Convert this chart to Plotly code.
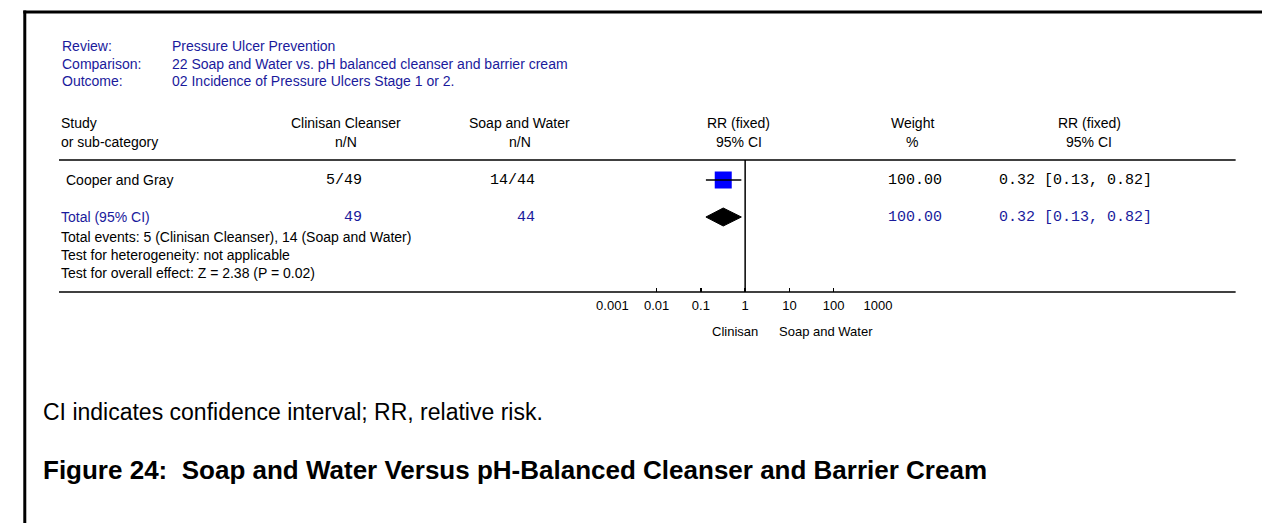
import plotly.graph_objects as go

# ---------------- data ----------------
review = "Pressure Ulcer Prevention"
comparison = "22 Soap and Water vs. pH balanced cleanser and barrier cream"
outcome = "02 Incidence of Pressure Ulcers Stage 1 or 2."
group_labels = ["Clinisan Cleanser", "Soap and Water"]
studies = ["Cooper and Gray"]
events_treat = [5]
total_treat = [49]
events_ctrl = [14]
total_ctrl = [44]
rr = [0.32]
ci_low = [0.13]
ci_high = [0.82]
weight = [100.00]
pooled_rr = 0.32
pooled_low = 0.13
pooled_high = 0.82
pooled_weight = 100.00
tick_vals = [0.001, 0.01, 0.1, 1, 10, 100, 1000]
tick_text = ["0.001", "0.01", "0.1", "1", "10", "100", "1000"]
favours = ["Clinisan", "Soap and Water"]
heterogeneity = "Test for heterogeneity: not applicable"
overall = "Test for overall effect: Z = 2.38 (P = 0.02)"
footnote = "CI indicates confidence interval; RR, relative risk."
caption = "Figure 24:\u00a0 Soap and Water Versus pH-Balanced Cleanser and Barrier Cream"

# ---------------- layout constants (pixels) ----------------
W, H = 1276, 523
SANS = "Liberation Sans, Arial, sans-serif"
MONO = "Liberation Mono, Courier New, monospace"
BLUE = "#1a1a9c"
x_lo_px, x_hi_px = 610.7, 882.7     # positions of 0.001 and 1000
axis_y = 292
head_line_y = 160
row_y = [180]
total_y = 217

def px(x):
    return x / W

fig = go.Figure()

# study squares
fig.add_trace(go.Scatter(
    x=rr, y=row_y, mode="markers",
    marker=dict(symbol="square", size=17, color="#0000ff", line=dict(width=0)),
    hoverinfo="skip", showlegend=False))
# CI lines (on top)
for lo, hi, yy in zip(ci_low, ci_high, row_y):
    fig.add_trace(go.Scatter(
        x=[lo, hi], y=[yy, yy], mode="lines",
        line=dict(color="black", width=1.5),
        hoverinfo="skip", showlegend=False))
# pooled diamond
dh = 9
fig.add_trace(go.Scatter(
    x=[pooled_low, pooled_rr, pooled_high, pooled_rr, pooled_low],
    y=[total_y, total_y - dh, total_y, total_y + dh, total_y],
    mode="lines", fill="toself", fillcolor="black",
    line=dict(color="black", width=1),
    hoverinfo="skip", showlegend=False))

shapes = []
# frame borders
shapes.append(dict(type="line", xref="paper", yref="y", x0=px(7.5), x1=1.0,
                   y0=12, y1=12, line=dict(color="black", width=3)))
shapes.append(dict(type="line", xref="paper", yref="y", x0=px(9), x1=px(9),
                   y0=10.5, y1=H, line=dict(color="black", width=3)))
# table lines
for yy in (head_line_y, axis_y):
    shapes.append(dict(type="line", xref="paper", yref="y", x0=px(44), x1=px(1249),
                       y0=yy, y1=yy, line=dict(color="black", width=1.5)))
# line of no effect
shapes.append(dict(type="line", xref="x", yref="y", x0=1, x1=1,
                   y0=head_line_y, y1=axis_y, line=dict(color="black", width=1.5)))

ann = []
def text(x, y, s, anchor="left", color="black", size=14, family=SANS, bold=False):
    if bold:
        s = "<b>" + s + "</b>"
    ann.append(dict(x=px(x), y=y, xref="paper", yref="y", text=s, showarrow=False,
                    xanchor=anchor, yanchor="middle",
                    font=dict(color=color, size=size, family=family)))

# header block
for lab, val, yy in (("Review:", review, 46), ("Comparison:", comparison, 63.5),
                     ("Outcome:", outcome, 81)):
    text(45, yy, lab, color=BLUE, size=14)
    text(158, yy, val, color=BLUE, size=14)

# column headers
text(44, 123, "Study")
text(44, 142, "or sub-category")
text(338, 123, group_labels[0], "center")
text(338, 142, "n/N", "center")
text(516, 123, group_labels[1], "center")
text(516, 142, "n/N", "center")
text(740, 123, "RR (fixed)", "center")
text(740, 142, "95% CI", "center")
text(918, 123, "Weight", "center")
text(918, 142, "%", "center")
text(1099, 123, "RR (fixed)", "center")
text(1099, 142, "95% CI", "center")

# study rows
for i, yy in enumerate(row_y):
    text(49, yy, studies[i])
    text(356, yy, f"{events_treat[i]}/{total_treat[i]}", "right", size=15, family=MONO)
    text(534, yy, f"{events_ctrl[i]}/{total_ctrl[i]}", "right", size=15, family=MONO)
    text(921, yy, f"{weight[i]:.2f}", "center", size=15, family=MONO)
    text(1005, yy, f"{rr[i]:.2f} [{ci_low[i]:.2f}, {ci_high[i]:.2f}]", size=15, family=MONO)

# total row
text(44, total_y, "Total (95% CI)", color=BLUE)
text(356, total_y, f"{sum(total_treat)}", "right", color=BLUE, size=15, family=MONO)
text(534, total_y, f"{sum(total_ctrl)}", "right", color=BLUE, size=15, family=MONO)
text(921, total_y, f"{pooled_weight:.2f}", "center", color=BLUE, size=15, family=MONO)
text(1005, total_y, f"{pooled_rr:.2f} [{pooled_low:.2f}, {pooled_high:.2f}]",
     color=BLUE, size=15, family=MONO)
text(44, 237, f"Total events: {sum(events_treat)} ({group_labels[0]}), "
              f"{sum(events_ctrl)} ({group_labels[1]})")
text(44, 255, heterogeneity)
text(44, 273, overall)

# favours labels
text(736, 331, favours[0], "center", size=13)
text(829, 331, favours[1], "center", size=13)

# footnote and caption
text(26, 412, footnote, size=23)
text(26, 470, caption, size=26, bold=True)

fig.update_layout(
    width=W, height=H,
    margin=dict(l=0, r=0, t=0, b=0),
    paper_bgcolor="white", plot_bgcolor="rgba(0,0,0,0)",
    shapes=shapes, annotations=ann, showlegend=False, hovermode=False,
    xaxis=dict(type="log", range=[-3, 3], domain=[px(x_lo_px), px(x_hi_px)],
               anchor="free", position=(H - axis_y) / H,
               tickvals=tick_vals, ticktext=tick_text,
               ticks="inside", ticklen=4, tickwidth=1.5, tickcolor="black",
               ticklabelstandoff=4, fixedrange=True,
               showline=False, showgrid=False, zeroline=False,
               tickfont=dict(family=SANS, size=13, color="black")),
    yaxis=dict(range=[H, 0], domain=[0, 1], visible=False, fixedrange=True),
)
fig.write_html("out.html",
               config={"displayModeBar": False, "staticPlot": True},
               post_script="document.body.style.margin='0';document.body.style.overflow='hidden';")
